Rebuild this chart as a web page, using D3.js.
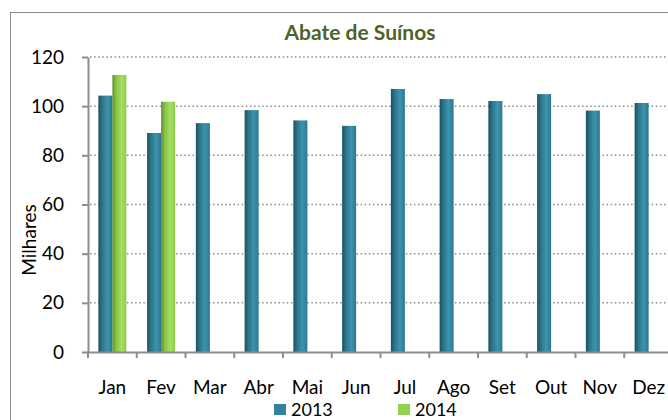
<!DOCTYPE html>
<html>
<head>
<meta charset="utf-8">
<script src="https://cdn.jsdelivr.net/npm/d3@7"></script>
<style>
  body { margin: 0; background: #fff; }
  text { font-family: Lato, "Open Sans", sans-serif; fill: #000; }
</style>
</head>
<body>
<div id="chart"></div>
<script>
const MONTHS = ["Jan", "Fev", "Mar", "Abr", "Mai", "Jun", "Jul", "Ago", "Set", "Out", "Nov", "Dez"];
const SERIES = ["2013", "2014"];
const V2013 = [104.3, 89.1, 93.1, 98.4, 94.2, 92.0, 107.0, 102.9, 102.1, 104.9, 98.2, 101.3];
const V2014 = [112.7, 101.8, null, null, null, null, null, null, null, null, null, null];
const Y_TICKS = [0, 20, 40, 60, 80, 100, 120];

var W = 668, H = 420;
var margin = { top: 57, left: 88 },
    plotW = 12 * 48.75,
    plotH = 295;
var FS = "19px";

var svg = d3.select("#chart").append("svg")
  .attr("width", W)
  .attr("height", H);

// gradients for the bars
var defs = svg.append("defs");
function grad(id, stops) {
  var g = defs.append("linearGradient").attr("id", id)
    .attr("x1", "0%").attr("x2", "100%").attr("y1", "0%").attr("y2", "0%");
  stops.forEach(function (s) {
    g.append("stop").attr("offset", s[0]).attr("stop-color", s[1]);
  });
}
grad("g2013", [["0%", "#1b4f5e"], ["25%", "#2b7388"], ["65%", "#3d94ad"], ["100%", "#2c7890"]]);
grad("g2014", [["0%", "#5d8f2a"], ["25%", "#86c046"], ["65%", "#a6e060"], ["100%", "#8ccb4c"]]);

// outer border of the chart area
svg.append("rect")
  .attr("x", 10.5).attr("y", 12.5)
  .attr("width", 700).attr("height", 420)
  .attr("fill", "none")
  .attr("stroke", "#8c8c8c")
  .attr("stroke-width", 1);

var g = svg.append("g").attr("transform", "translate(" + margin.left + "," + margin.top + ")");

var x = d3.scaleBand().domain(MONTHS).range([0, plotW]).paddingInner(0).paddingOuter(0);
var y = d3.scaleLinear().domain([0, 120]).range([plotH, 0]);

// gridlines
g.selectAll("line.grid")
  .data(Y_TICKS.filter(function (d) { return d > 0; }))
  .enter().append("line")
  .attr("class", "grid")
  .attr("x1", 2).attr("x2", plotW)
  .attr("y1", function (d) { return y(d); })
  .attr("y2", function (d) { return y(d); })
  .attr("stroke", "#8a8a8a")
  .attr("stroke-width", 1.5)
  .attr("stroke-dasharray", "1.5,2.6");

// bars
var barW = 14;
var offs = { "2013": -barW, "2014": 0 };
var rows = [];
MONTHS.forEach(function (m, i) {
  rows.push({ m: m, s: "2013", v: V2013[i] });
  if (V2014[i] != null) rows.push({ m: m, s: "2014", v: V2014[i] });
});

g.selectAll("rect.bar")
  .data(rows)
  .enter().append("rect")
  .attr("class", "bar")
  .attr("x", function (d) { return x(d.m) + x.bandwidth() / 2 + offs[d.s]; })
  .attr("y", function (d) { return y(d.v); })
  .attr("width", barW)
  .attr("height", function (d) { return plotH - y(d.v); })
  .attr("fill", function (d) { return "url(#g" + d.s + ")"; });

// y axis
var yAxis = g.append("g")
  .call(d3.axisLeft(y).tickValues(Y_TICKS).tickSize(6).tickPadding(18).tickSizeOuter(0));
yAxis.select(".domain").attr("stroke", "#8c8c8c").attr("stroke-width", 2);
yAxis.selectAll(".tick line").attr("stroke", "#8c8c8c").attr("stroke-width", 2);
yAxis.selectAll(".tick text").style("font-size", FS).style("font-family", "Lato, sans-serif").attr("fill", "#000");

// x axis
var xAxis = g.append("g").attr("transform", "translate(0," + plotH + ")")
  .call(d3.axisBottom(x).tickSize(0).tickPadding(29));
xAxis.select(".domain").attr("stroke", "#8c8c8c").attr("stroke-width", 2);
xAxis.selectAll(".tick text").style("font-size", FS).style("font-family", "Lato, sans-serif").attr("fill", "#000");

// ticks between categories
g.selectAll("line.xtick")
  .data(MONTHS)
  .enter().append("line")
  .attr("class", "xtick")
  .attr("x1", function (d) { return x(d); })
  .attr("x2", function (d) { return x(d); })
  .attr("y1", plotH)
  .attr("y2", plotH + 6)
  .attr("stroke", "#8c8c8c")
  .attr("stroke-width", 2);

// title
svg.append("text")
  .attr("x", 360).attr("y", 40)
  .attr("text-anchor", "middle")
  .style("font-size", "21px")
  .style("font-weight", "bold")
  .style("fill", "#4f6228")
  .text("Abate de Suínos");

// y label
svg.append("text")
  .attr("transform", "translate(36,240) rotate(-90)")
  .attr("text-anchor", "middle")
  .style("font-size", FS)
  .text("Milhares");

// legend
var legColor = { "2013": "#31849b", "2014": "#92d050" };
var legX = { "2013": 274, "2014": 398 };
var leg = svg.selectAll("g.leg").data(SERIES).enter().append("g")
  .attr("class", "leg")
  .attr("transform", function (d) { return "translate(" + legX[d] + ",404)"; });
leg.append("rect").attr("width", 12).attr("height", 11)
  .attr("fill", function (d) { return legColor[d]; });
leg.append("text").attr("x", 17).attr("y", 12)
  .style("font-size", "18px")
  .text(function (d) { return d; });
</script>
</body>
</html>
